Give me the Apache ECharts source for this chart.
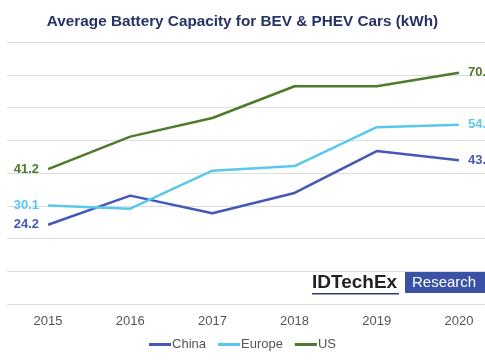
<!DOCTYPE html>
<html>
<head>
<meta charset="utf-8">
<script src="https://cdn.jsdelivr.net/npm/echarts@6/dist/echarts.min.js"></script>
<style>
html,body{margin:0;padding:0;background:#fff;}
#chart{width:485px;height:360px;}
</style>
</head>
<body>
<div id="chart"></div>
<script>
var years = ['2015', '2016', '2017', '2018', '2019', '2020'];
var china = [24.2, 33.1, 27.7, 33.9, 46.7, 43.9];
var europe = [30.1, 29.1, 40.7, 42.1, 54.0, 54.7];
var us = [41.2, 51.1, 56.8, 66.5, 66.5, 70.6];
var seriesNames = ['China', 'Europe', 'US'];
var seriesColors = ['#4557b8', '#5ac8ec', '#4e7a2b'];

function buildData(values, color) {
  return values.map(function (v, i) {
    var item = { value: v };
    if (i === 0 || i === values.length - 1) {
      item.label = {
        show: true,
        position: i === 0 ? 'left' : 'right',
        distance: 9,
        formatter: function (p) { return p.value.toFixed(1); },
        color: color,
        fontWeight: 'bold',
        fontSize: 13,
        fontFamily: 'Liberation Sans, Arial, sans-serif'
      };
    }
    return item;
  });
}

var allValues = [china, europe, us];
var chart = echarts.init(document.getElementById('chart'), null, { renderer: 'canvas' });
chart.setOption({
  animation: false,
  backgroundColor: '#ffffff',
  title: {
    text: 'Average Battery Capacity for BEV & PHEV Cars (kWh)',
    left: 'center',
    top: 9,
    textStyle: {
      color: '#253465',
      fontSize: 15.3,
      fontWeight: 'bold',
      fontFamily: 'Liberation Sans, Arial, sans-serif'
    }
  },
  legend: {
    bottom: 4,
    left: 'center',
    itemWidth: 22,
    itemHeight: 3,
    itemGap: 12,
    icon: 'rect',
    textStyle: { color: '#555', fontSize: 13, fontFamily: 'Liberation Sans, Arial, sans-serif', padding: [0, 0, 0, -4] },
    data: seriesNames
  },
  grid: { left: 7, top: 42, width: 493, bottom: 56, containLabel: false, outerBoundsMode: 'none' },
  xAxis: {
    type: 'category',
    data: years,
    boundaryGap: true,
    axisLine: { show: false },
    axisTick: { show: false },
    axisLabel: { color: '#555', fontSize: 13, margin: 11, fontFamily: 'Liberation Sans, Arial, sans-serif' }
  },
  yAxis: {
    type: 'value',
    min: 0,
    max: 80,
    interval: 10,
    axisLabel: { show: false },
    axisLine: { show: false },
    axisTick: { show: false },
    splitLine: { lineStyle: { color: '#dddddd', width: 1 } }
  },
  series: seriesNames.map(function (name, k) {
    return {
      name: name,
      type: 'line',
      data: buildData(allValues[k], seriesColors[k]),
      symbol: 'circle',
      symbolSize: 0.01,
      showSymbol: true,
      showAllSymbol: true,
      color: seriesColors[k],
      lineStyle: { width: 2.5, color: seriesColors[k] },
      labelLayout: { hideOverlap: false },
      clip: false
    };
  }),
  graphic: [
    {
      type: 'text',
      left: 312,
      top: 273,
      style: {
        text: 'IDTechEx',
        fill: '#222',
        font: 'bold 19px Liberation Sans, Arial, sans-serif'
      }
    },
    {
      type: 'rect',
      shape: { x: 312, y: 293, width: 87, height: 1.5 },
      style: { fill: '#2c3a7a' }
    },
    {
      type: 'rect',
      shape: { x: 405, y: 272, width: 80, height: 21 },
      style: { fill: '#3a52a5' }
    },
    {
      type: 'text',
      left: 412,
      top: 275,
      style: {
        text: 'Research',
        fill: '#ffffff',
        font: '15px Liberation Sans, Arial, sans-serif'
      }
    }
  ]
});
</script>
</body>
</html>
